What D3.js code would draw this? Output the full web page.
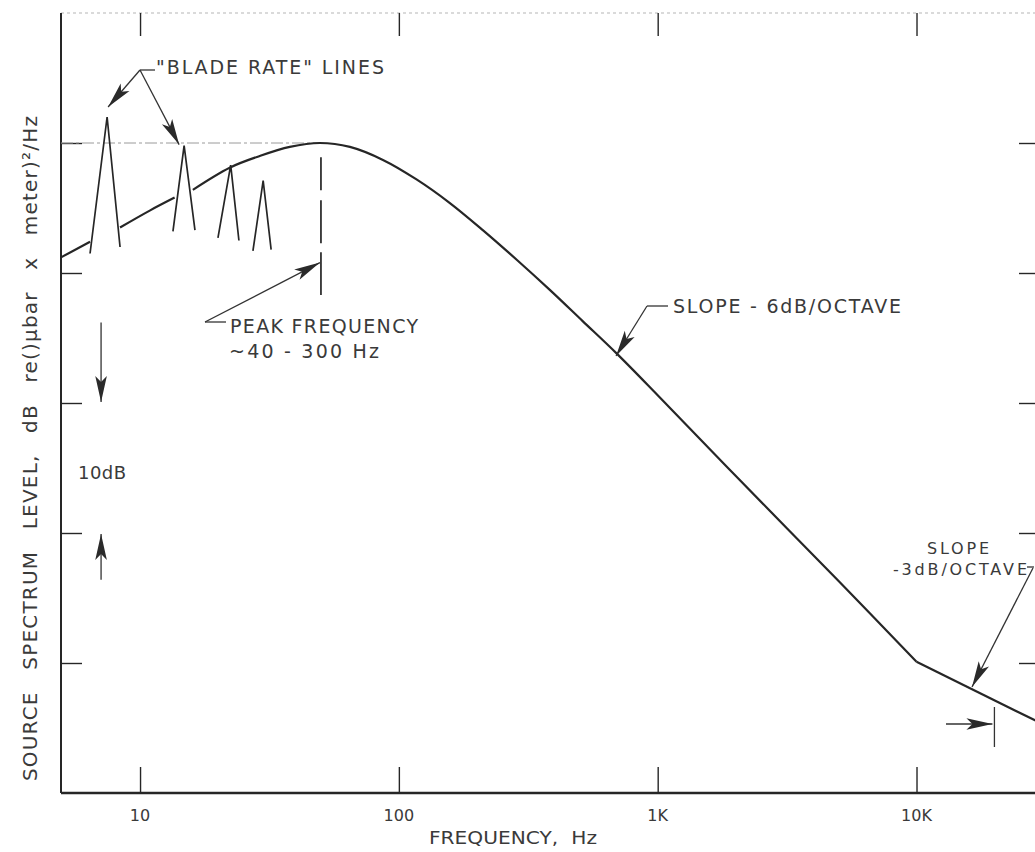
<!DOCTYPE html>
<html>
<head>
<meta charset="utf-8">
<script src="https://cdn.jsdelivr.net/npm/d3@7"></script>
<style>
  html, body { margin: 0; padding: 0; background: #fff; }
  svg { display: block; }
  text { font-family: "DejaVu Sans", "Liberation Sans", sans-serif; fill: #3a3a3a; }
</style>
</head>
<body>
<svg id="chart" width="1035" height="852"></svg>
<script>
// Broadband source spectrum (relative dB); null breaks the line under a blade-rate line
const spectrumFreq  = [4.95, 6.41, 7.46, 8.37, 10.9, 13.6, 14.8, 16.0, 22.2, 29.0, 37.9, 49.5, 64.7, 86.8, 117, 157, 211, 286, 383, 513, 695, 1000, 2000, 5000, 10000];
const spectrumLevel = [41.2, 42.4, null, 43.5, 44.8, 45.8, null, 46.4, 48.1, 49.0, 49.7, 50.0, 49.7, 48.7, 47.2, 45.4, 43.3, 41.0, 38.7, 36.3, 33.8, 30.6, 24.4, 16.3, 10.1];

// High-frequency tail (-3 dB/octave)
const tailFreq  = [10000, 30000];
const tailLevel = [10.1, 5.4];

// Blade-rate tonal lines: base-left, apex, base-right
const bladeLoFreq   = [6.41, 13.4, 20.0, 27.3];
const bladeLoLevel  = [41.5, 43.2, 42.7, 41.7];
const bladeApexFreq = [7.46, 14.8, 22.4, 29.9];
const bladeApexLevel= [52.0, 49.8, 48.3, 47.1];
const bladeHiFreq   = [8.37, 16.3, 24.1, 32.1];
const bladeHiLevel  = [42.0, 43.3, 42.5, 41.8];

// Axis ticks
const xTickValues = [10, 100, 1000, 10000];
const xTickLabels = ["10", "100", "1K", "10K"];
const yTickValues = [10, 20, 30, 40, 50];

const peakLevel = 50;
const peakFreq = 50;

const svg = d3.select("#chart");
const ink = "#262626";

const x = d3.scaleLog().domain([4.95, 30000]).range([61, 1040]);
const y = d3.scaleLinear().domain([0, 60]).range([793, 13]);

// arrowhead
const defs = svg.append("defs");
defs.append("marker")
  .attr("id", "head")
  .attr("markerUnits", "userSpaceOnUse")
  .attr("viewBox", "-28 -8 30 16")
  .attr("refX", 0).attr("refY", 0)
  .attr("markerWidth", 30).attr("markerHeight", 16)
  .attr("orient", "auto")
  .append("path")
  .attr("d", "M0,0 L-26,-5.8 L-20,0 L-26,5.8 Z")
  .attr("fill", "#2a2a2a");

// top border (faint, dotted)
svg.append("line")
  .attr("x1", x.range()[0]).attr("x2", x.range()[1])
  .attr("y1", y(60)).attr("y2", y(60))
  .attr("stroke", "#b5b5b5").attr("stroke-width", 1.2)
  .attr("stroke-dasharray", "3,3");

// bottom axis with inward ticks
const xAxisG = svg.append("g").attr("transform", `translate(0,${y(0)})`)
  .call(d3.axisBottom(x).tickValues(xTickValues).tickSize(-26).tickPadding(0).tickFormat(() => ""));
xAxisG.select(".domain").attr("stroke", ink).attr("stroke-width", 2.4).attr("d", `M${x.range()[0]},0H${x.range()[1]}`);
xAxisG.selectAll(".tick line").attr("stroke", ink).attr("stroke-width", 1.4);

svg.append("g").selectAll("text").data(xTickValues).join("text")
  .attr("x", d => x(d)).attr("y", y(0) + 28)
  .attr("text-anchor", "middle")
  .attr("font-size", 16)
  .text((d, i) => xTickLabels[i]);

// top ticks
const xTopG = svg.append("g").attr("transform", `translate(0,${y(60)})`)
  .call(d3.axisTop(x).tickValues(xTickValues).tickSize(-23).tickFormat(() => ""));
xTopG.select(".domain").remove();
xTopG.selectAll(".tick line").attr("stroke", ink).attr("stroke-width", 1.4);

// left axis with inward ticks
const yAxisG = svg.append("g").attr("transform", `translate(${x.range()[0]},0)`)
  .call(d3.axisLeft(y).tickValues(yTickValues).tickSize(-21).tickFormat(() => ""));
yAxisG.select(".domain").attr("stroke", ink).attr("stroke-width", 2).attr("d", `M0,${y(60)}V${y(0)}`);
yAxisG.selectAll(".tick line").attr("stroke", ink).attr("stroke-width", 1.4);

// right ticks
const yRightG = svg.append("g").attr("transform", `translate(${x.range()[1]},0)`)
  .call(d3.axisRight(y).tickValues(yTickValues).tickSize(-21).tickFormat(() => ""));
yRightG.select(".domain").remove();
yRightG.selectAll(".tick line").attr("stroke", ink).attr("stroke-width", 1.4);

// axis titles
svg.append("text")
  .attr("x", 513).attr("y", 844)
  .attr("text-anchor", "middle")
  .attr("font-size", 18)
  .attr("textLength", 168).attr("lengthAdjust", "spacingAndGlyphs")
  .attr("word-spacing", 6)
  .text("FREQUENCY, Hz");

svg.append("text")
  .attr("transform", "translate(37,448) rotate(-90)")
  .attr("text-anchor", "middle")
  .attr("font-size", 20)
  .attr("word-spacing", 14)
  .attr("letter-spacing", 1.2)
  .text("SOURCE SPECTRUM LEVEL, dB re()\u03bcbar x meter)\u00b2/Hz");

// reference level at the spectrum peak
svg.append("line")
  .attr("x1", x.range()[0]).attr("x2", x(peakFreq))
  .attr("y1", y(peakLevel)).attr("y2", y(peakLevel))
  .attr("stroke", "#9a9a9a").attr("stroke-width", 1)
  .attr("stroke-dasharray", "12,3,3,3");

// broadband spectrum
const spectrum = spectrumFreq.map((f, i) => ({ f, v: spectrumLevel[i] }));
const line = d3.line()
  .defined(d => d.v !== null)
  .x(d => x(d.f)).y(d => y(d.v))
  .curve(d3.curveCatmullRom.alpha(0.5));
svg.append("path").datum(spectrum)
  .attr("d", line)
  .attr("fill", "none").attr("stroke", ink).attr("stroke-width", 2.2);

const tail = tailFreq.map((f, i) => ({ f, v: tailLevel[i] }));
svg.append("path").datum(tail)
  .attr("d", d3.line().x(d => x(d.f)).y(d => y(d.v)))
  .attr("fill", "none").attr("stroke", ink).attr("stroke-width", 2.2);

// blade-rate lines
const blades = bladeApexFreq.map((f, i) => [
  { f: bladeLoFreq[i], v: bladeLoLevel[i] },
  { f, v: bladeApexLevel[i] },
  { f: bladeHiFreq[i], v: bladeHiLevel[i] }
]);
svg.append("g").selectAll("path").data(blades).join("path")
  .attr("d", d3.line().x(d => x(d.f)).y(d => y(d.v)))
  .attr("fill", "none").attr("stroke", ink).attr("stroke-width", 1.7)
  .attr("stroke-linejoin", "miter");

// peak-frequency marker
svg.append("line")
  .attr("x1", x(peakFreq)).attr("x2", x(peakFreq))
  .attr("y1", y(48.9)).attr("y2", y(38.3))
  .attr("stroke", ink).attr("stroke-width", 1.7)
  .attr("stroke-dasharray", "33,10,43,9,60");

const note = svg.append("g").attr("stroke", "#333").attr("stroke-width", 1.3).attr("fill", "none");

function arrow(x1, y1, x2, y2) {
  note.append("line").attr("x1", x1).attr("y1", y1).attr("x2", x2).attr("y2", y2)
    .attr("marker-end", "url(#head)");
}
function stub(x1, y1, x2, y2) {
  note.append("line").attr("x1", x1).attr("y1", y1).attr("x2", x2).attr("y2", y2);
}

// "BLADE RATE" LINES
stub(140, 70, 155, 70);
arrow(140, 70, x(bladeApexFreq[0]) + 1, y(bladeApexLevel[0]) - 10);
arrow(140, 70, x(bladeApexFreq[1]) - 5, y(bladeApexLevel[1]) - 1);
svg.append("text").attr("x", 156).attr("y", 74).attr("font-size", 19)
  .attr("textLength", 228).attr("lengthAdjust", "spacing")
  .text("\"BLADE RATE\"  LINES");

// PEAK FREQUENCY
stub(205, 322, 226, 322);
arrow(205, 322, x(peakFreq) - 1, y(40.8));
svg.append("text").attr("x", 230).attr("y", 333).attr("font-size", 19)
  .attr("textLength", 188).attr("lengthAdjust", "spacing")
  .text("PEAK  FREQUENCY");
svg.append("text").attr("x", 229).attr("y", 358).attr("font-size", 19)
  .attr("textLength", 150).attr("lengthAdjust", "spacing")
  .text("~40 - 300  Hz");

// SLOPE -6dB/OCTAVE
stub(647, 306, 668, 306);
arrow(647, 306, 616, 356);
svg.append("text").attr("x", 673).attr("y", 313).attr("font-size", 19)
  .attr("textLength", 228).attr("lengthAdjust", "spacing")
  .text("SLOPE  - 6dB/OCTAVE");

// SLOPE -3dB/OCTAVE
svg.append("text").attr("x", 958).attr("y", 554).attr("font-size", 16)
  .attr("text-anchor", "middle")
  .attr("textLength", 62).attr("lengthAdjust", "spacing")
  .text("SLOPE");
svg.append("text").attr("x", 893).attr("y", 575).attr("font-size", 16)
  .attr("textLength", 134).attr("lengthAdjust", "spacing")
  .text("-3dB/OCTAVE");
stub(1027, 567, 1034, 567);
arrow(1033, 568, 972, 687);

// 20 kHz marker
arrow(946, 724, x(20000) - 2, 724);
svg.append("line")
  .attr("x1", x(20000)).attr("x2", x(20000))
  .attr("y1", 707).attr("y2", 747)
  .attr("stroke", "#333").attr("stroke-width", 1.3);

// 10 dB scale indicator
const xInd = x(7.07);
arrow(xInd, y(36.2), xInd, y(30) - 1);
arrow(xInd, y(16.4), xInd, y(20) + 1);
svg.append("text").attr("x", xInd + 1).attr("y", 479).attr("font-size", 18)
  .attr("text-anchor", "middle")
  .attr("textLength", 48).attr("lengthAdjust", "spacing")
  .text("10dB");
</script>
</body>
</html>
